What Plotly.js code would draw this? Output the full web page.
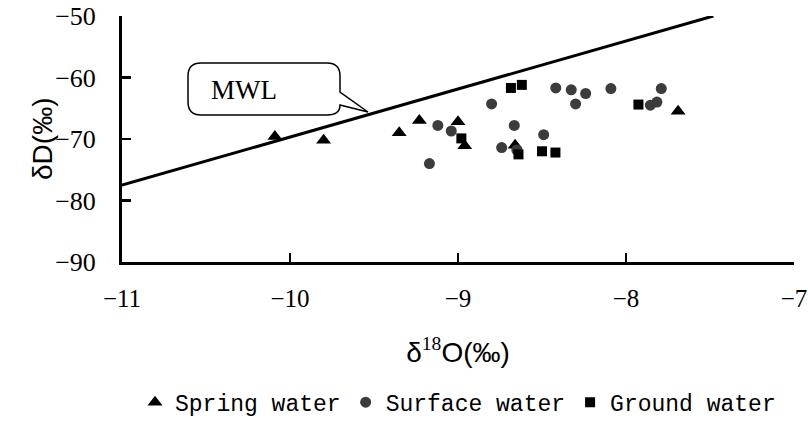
<!DOCTYPE html>
<html>
<head>
<meta charset="utf-8">
<script src="https://cdn.plot.ly/plotly-3.0.1.min.js"></script>
<style>html,body{margin:0;padding:0;background:#fff;}#chart{width:808px;height:440px;}</style>
</head>
<body>
<div id="chart"></div>
<script>
// Spring water
var springX = [-10.09, -9.80, -9.35, -9.23, -9.00, -8.96, -8.66, -7.69];
var springY = [-69.6, -70.2, -69.0, -67.0, -67.2, -71.1, -71.0, -65.5];
// Surface water
var surfaceX = [-9.12, -9.04, -9.17, -8.80, -8.665, -8.49, -8.74, -8.65, -8.418, -8.326, -8.24, -8.30, -8.09, -7.855, -7.816, -7.79];
var surfaceY = [-67.8, -68.7, -74.0, -64.3, -67.8, -69.3, -71.4, -71.8, -61.7, -62.0, -62.6, -64.3, -61.8, -64.5, -64.0, -61.8];
// Ground water
var groundX = [-8.98, -8.685, -8.62, -8.64, -8.50, -8.42, -7.926];
var groundY = [-69.9, -61.7, -61.2, -72.5, -72.0, -72.2, -64.4];
// Meteoric water line (end points)
var mwlX = [-11, -7.48];
var mwlY = [-77.5, -50];
// Axis ticks
var xTicks = [-11, -10, -9, -8, -7];
var yTicks = [-90, -80, -70, -60, -50];
var seriesNames = ['Spring water', 'Surface water', 'Ground water'];

// callout geometry helpers (pixel -> data for this fixed layout)
var PL = 122, PR = 794, PT = 16, PB = 262;
function px2x(p){ return -11 + (p - PL) / ((PR - PL) / 4); }
function py2y(p){ return -50 - (p - PT) / ((PB - PT) / 40); }
function P(a, b){ return px2x(a).toFixed(4) + ',' + py2y(b).toFixed(4); }
var L = 188, R = 340, T = 63, B = 115, r = 13;
var calloutPath = 'M' + P(L + r, T) + ' L' + P(R - r, T) + ' Q' + P(R, T) + ' ' + P(R, T + r) +
  ' L' + P(R, 92) + ' L' + P(368, 112) + ' L' + P(R, 105) + ' Q' + P(R, B) + ' ' + P(R - r, B) +
  ' L' + P(L + r, B) + ' Q' + P(L, B) + ' ' + P(L, B - r) + ' L' + P(L, T + r) + ' Q' + P(L, T) + ' ' + P(L + r, T) + ' Z';

var traces = [
  {x: mwlX, y: mwlY, mode: 'lines', line: {color: '#000', width: 3}, showlegend: false, hoverinfo: 'skip'},
  {x: springX, y: springY, name: seriesNames[0], mode: 'markers', type: 'scatter',
   marker: {symbol: 'triangle-up', size: 13, color: '#000'}},
  {x: surfaceX, y: surfaceY, name: seriesNames[1], mode: 'markers', type: 'scatter',
   marker: {symbol: 'circle', size: 11, color: '#3c3c3c'}},
  {x: groundX, y: groundY, name: seriesNames[2], mode: 'markers', type: 'scatter',
   marker: {symbol: 'square', size: 10, color: '#000'}}
];

var layout = {
  width: 808, height: 440,
  margin: {l: PL, r: 808 - PR, t: PT, b: 440 - PB},
  paper_bgcolor: '#fff', plot_bgcolor: '#fff',
  showlegend: true,
  legend: {orientation: 'h', x: 0.5, xanchor: 'center', y: -0.57, yanchor: 'middle',
    font: {family: 'Liberation Mono', size: 23, color: '#000'}, itemwidth: 30, tracegroupgap: 0},
  xaxis: {
    range: [-11, -7], tickvals: xTicks, ticks: 'inside', ticklen: 9, tickwidth: 2.5, tickcolor: '#000',
    showline: true, linecolor: '#000', linewidth: 3, showgrid: false, zeroline: false,
    ticklabeloverflow: 'allow',
    tickfont: {family: 'Liberation Serif', size: 25, color: '#000'}, ticklabelstandoff: 12,
    title: {text: 'δ<span style="font-family:Liberation Serif"><sup>18</sup></span>O(‰)', standoff: 32,
      font: {family: 'Liberation Sans', size: 28, color: '#000'}}
  },
  yaxis: {
    range: [-90, -50], tickvals: yTicks, ticks: 'inside', ticklen: 9, tickwidth: 2.5, tickcolor: '#000',
    showline: true, linecolor: '#000', linewidth: 3, showgrid: false, zeroline: false,
    ticklabeloverflow: 'allow',
    tickfont: {family: 'Liberation Serif', size: 26, color: '#000'}, ticklabelstandoff: 18
  },
  shapes: [{type: 'path', xref: 'x', yref: 'y', path: calloutPath, layer: 'above',
    fillcolor: '#fff', line: {color: '#000', width: 1.5}}],
  annotations: [
    {xref: 'x', yref: 'y', x: px2x(244), y: py2y(90), text: 'MWL', showarrow: false,
     font: {family: 'Liberation Serif', size: 27, color: '#000'}},
    {xref: 'paper', yref: 'paper', x: (42 - PL) / (PR - PL), y: 0.5, xanchor: 'center', yanchor: 'middle',
     text: 'δD(‰)', textangle: -90, showarrow: false,
     font: {family: 'Liberation Sans', size: 28, color: '#000'}}
  ]
};

Plotly.newPlot('chart', traces, layout, {staticPlot: true, displayModeBar: false});
</script>
</body>
</html>
